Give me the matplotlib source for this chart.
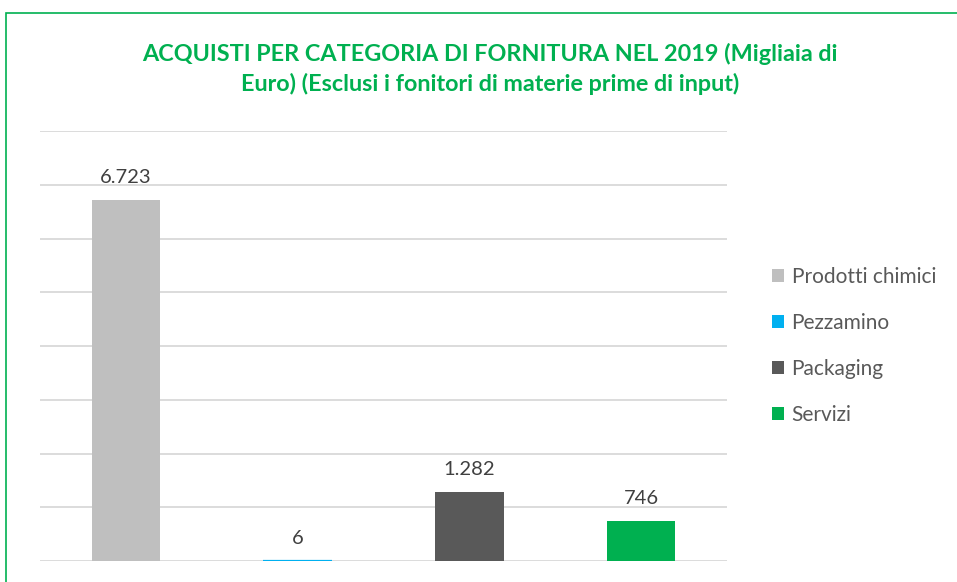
import matplotlib.pyplot as plt
from matplotlib.patches import Patch, Rectangle

# Dati (migliaia di euro)
categorie = ['Prodotti chimici', 'Pezzamino', 'Packaging', 'Servizi']
valori = [6723, 6, 1282, 746]
etichette = ['6.723', '6', '1.282', '746']
colori = ['#BFBFBF', '#00B0F0', '#595959', '#00B050']

plt.rcParams['font.family'] = ['Lato', 'DejaVu Sans']

fig = plt.figure(figsize=(9.57, 5.82), dpi=100)
ax = fig.add_axes([40/957, 1 - 561/582, 687/957, 430/582])

x = range(len(categorie))
ax.bar(x, valori, width=0.4, color=colori, edgecolor=colori,
       linewidth=[0, 1.6, 0, 0], zorder=3)
for i, (v, t) in enumerate(zip(valori, etichette)):
    ax.annotate(t, (i, v), xytext=(0, 10), textcoords='offset points',
                ha='center', va='bottom', fontsize=14.5, color='#404040')

ax.set_xlim(-0.5, 3.5)
ax.set_ylim(0, 8000)
ax.set_yticks(range(0, 8001, 1000))
ax.yaxis.grid(True, color='#D9D9D9', linewidth=1.3, zorder=0)
ax.tick_params(left=False, bottom=False, labelleft=False, labelbottom=False)
for s in ax.spines.values():
    s.set_visible(False)

fig.text(0.512, 1 - 69/582,
         'ACQUISTI PER CATEGORIA DI FORNITURA NEL 2019 (Migliaia di\n'
         'Euro) (Esclusi i fonitori di materie prime di input)',
         ha='center', va='center', fontsize=16.8, fontweight='bold',
         color='#00B050', linespacing=1.45)

handles = [Patch(facecolor=c, edgecolor='none') for c in colori]
fig.legend(handles, categorie, loc='center left', bbox_to_anchor=(753/957, 1 - 346/582),
           frameon=False, fontsize=15, labelcolor='#595959', handlelength=0.6,
           handleheight=0.6, handletextpad=0.35, labelspacing=1.25)

# cornice verde
fig.patches.append(Rectangle((6/957, -0.05), 1.1, 1 - 13/582 + 0.05, transform=fig.transFigure,
                             fill=False, edgecolor='#00B050', linewidth=1.2))

fig.savefig('out.png', dpi=100)
